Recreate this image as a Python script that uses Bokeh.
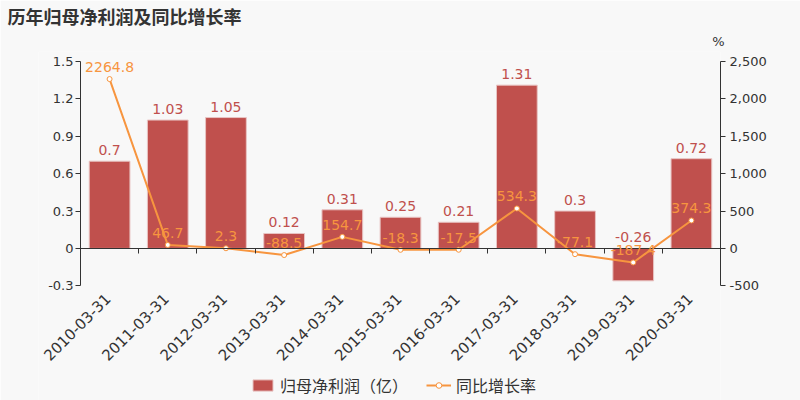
import math
from bokeh.plotting import figure
from bokeh.models import (ColumnDataSource, LinearAxis, Range1d, FixedTicker,
                          NumeralTickFormatter, Legend, LegendItem, LabelSet, Title)
from bokeh.core.properties import value
from bokeh.embed import file_html
from bokeh.resources import INLINE

# data
dates = ["2010-03-31", "2011-03-31", "2012-03-31", "2013-03-31", "2014-03-31",
         "2015-03-31", "2016-03-31", "2017-03-31", "2018-03-31", "2019-03-31",
         "2020-03-31"]
profit = [0.7, 1.03, 1.05, 0.12, 0.31, 0.25, 0.21, 1.31, 0.3, -0.26, 0.72]
growth = [2264.8, 46.7, 2.3, -88.5, 154.7, -18.3, -17.5, 534.3, -77.1, -187.4, 374.3]
left_ticks = [-0.3, 0, 0.3, 0.6, 0.9, 1.2, 1.5]
left_tick_labels = ["-0.3", "0", "0.3", "0.6", "0.9", "1.2", "1.5"]
right_ticks = [-500, 0, 500, 1000, 1500, 2000, 2500]

bar_color = "#c0504d"
line_color = "#f7953f"
text_color = "#333333"
bg = "#f8f8f8"

# page layout: plot area 80..720 x 60..285, the frame reaches further so the
# rotated dates and the legend can live inside it
W, H = 800, 400
border_l, border_r, border_t = 38, 80, 50
area_l, area_r, area_t, area_b = 80, 720, 60, 285
n = len(dates)
px_x = (area_r - area_l) / n
lo, hi = left_ticks[0], left_ticks[-1]
px_y = (area_b - area_t) / (hi - lo)
rlo, rhi = right_ticks[0], right_ticks[-1]
px_r = (area_b - area_t) / (rhi - rlo)

xs = list(range(n))
source = ColumnDataSource(data={
    "x": xs,
    "profit": profit,
    "profit_lbl": [str(v) for v in profit],
    "profit_pos": [max(v, 0) for v in profit],
    "growth": growth,
    "growth_lbl": [str(v) for v in growth],
    "date": dates,
    "base": [lo] * n,
})

p = figure(width=W, height=H, title=None, x_axis_location=None,
           x_range=Range1d(-0.5 - (area_l - border_l) / px_x,
                           n - 0.5 + (W - border_r - area_r) / px_x),
           y_range=Range1d(lo - (H - area_b) / px_y,
                           hi + (area_t - border_t) / px_y),
           output_backend="svg", toolbar_location=None,
           min_border_left=border_l, min_border_right=border_r,
           min_border_top=border_t, min_border_bottom=0,
           background_fill_color=bg, border_fill_color=bg)
p.outline_line_color = None
p.grid.visible = False
p.extra_y_ranges = {"pct": Range1d(rlo - (H - area_b) / px_r,
                                   rhi + (area_t - border_t) / px_r)}

bars = p.vbar(x="x", top="profit", width=0.7, source=source,
              fill_color=bar_color, line_color="#e8c4c3", line_width=1)
line = p.line(x="x", y="growth", source=source, y_range_name="pct",
              line_color=line_color, line_width=2)
pts = p.scatter(x="x", y="growth", source=source, y_range_name="pct",
                size=5, fill_color="white", line_color=line_color, line_width=1)

p.add_layout(LabelSet(x="x", y="profit_pos", text="profit_lbl", source=source,
                      y_offset=6, text_align="center", text_baseline="bottom",
                      text_color=bar_color, text_font=value("DejaVu Sans"),
                      text_font_size="14px"))
p.add_layout(LabelSet(x="x", y="growth", text="growth_lbl", source=source,
                      y_range_name="pct", y_offset=7, text_align="center",
                      text_baseline="bottom", text_color=line_color,
                      text_font=value("DejaVu Sans"), text_font_size="14px"))

# rotated category labels under the plot area
p.add_layout(LabelSet(x="x", y="base", text="date", source=source,
                      x_offset=-2, y_offset=-10, angle=math.pi / 4,
                      text_align="right", text_baseline="middle",
                      text_color=text_color, text_font=value("DejaVu Sans"),
                      text_font_size="15px"))

# left axis
ya = p.yaxis[0]
ya.fixed_location = -0.5
ya.bounds = (lo, hi)
ya.ticker = FixedTicker(ticks=left_ticks)
ya.major_label_overrides = dict(zip(left_ticks, left_tick_labels))
ya.axis_line_color = text_color
ya.major_tick_line_color = text_color
ya.major_tick_in = 0
ya.major_tick_out = 5
ya.minor_tick_line_color = None
ya.major_label_standoff = 2
ya.axis_label_standoff = 0
ya.major_label_text_color = text_color
ya.major_label_text_font = "DejaVu Sans"
ya.major_label_text_font_size = "13px"

# right axis
ra = LinearAxis(y_range_name="pct", ticker=FixedTicker(ticks=right_ticks),
                formatter=NumeralTickFormatter(format="0,0"), bounds=(rlo, rhi))
ra.axis_line_color = text_color
ra.major_tick_line_color = text_color
ra.major_tick_in = 0
ra.major_tick_out = 5
ra.minor_tick_line_color = None
ra.major_label_standoff = 4
ra.major_label_text_color = text_color
ra.major_label_text_font = "DejaVu Sans"
ra.major_label_text_font_size = "13px"
p.add_layout(ra, "right")

# zero line with ticks between categories
za = LinearAxis(fixed_location=0, bounds=(-0.5, n - 0.5),
                ticker=FixedTicker(ticks=[i + 0.5 for i in xs[:-1]]))
za.axis_line_color = text_color
za.major_tick_line_color = text_color
za.major_tick_in = 5
za.major_tick_out = 0
za.minor_tick_line_color = None
za.major_label_text_color = None
za.major_label_text_font_size = "1px"
za.major_label_standoff = 0

legend = Legend(items=[LegendItem(label="归母净利润（亿）", renderers=[bars]),
                       LegendItem(label="同比增长率", renderers=[line, pts])],
                orientation="horizontal", location=(212, 3))
legend.background_fill_alpha = 0
legend.border_line_color = None
legend.label_text_font = "Noto Sans CJK SC"
legend.label_text_font_size = "16px"
legend.label_text_color = text_color
legend.glyph_width = 25
legend.glyph_height = 14
legend.spacing = 18
legend.padding = 2
legend.margin = 0
p.add_layout(legend, "center")

# stacked above the frame, nearest first: zero axis, "%", main title
pct_title = Title(text="%", align="right", offset=-4, standoff=6,
                  text_font="DejaVu Sans", text_font_size="13px",
                  text_font_style="normal", text_color=text_color)
main_title = Title(text="历年归母净利润及同比增长率", align="left", offset=7 - border_l,
                   standoff=0, text_font="Noto Sans CJK SC", text_font_size="18px",
                   text_font_style="bold", text_color=text_color)
p.add_layout(za, "above")
p.add_layout(pct_title, "above")
p.add_layout(main_title, "above")

open("out.html", "w").write(file_html(p, INLINE))
